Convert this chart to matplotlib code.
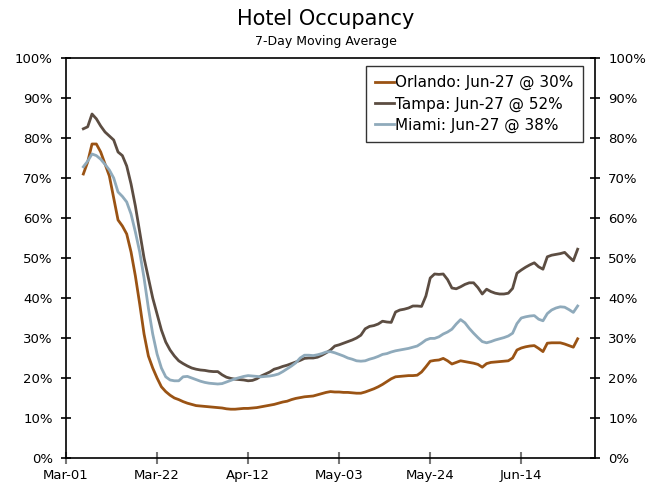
import numpy as np
import pandas as pd
import matplotlib
matplotlib.use('Agg')
import matplotlib.pyplot as plt
import matplotlib.dates as mdates
from matplotlib.ticker import FuncFormatter

# 7-day moving average occupancy (%), daily from Mar-05 to Jun-27
orlando = [71.0, 74.0, 78.5, 78.5, 76.5, 73.5, 70.5,
           65.0, 59.5, 58.0, 56.0, 51.5, 45.5, 38.5,
           31.0, 25.5, 22.5, 20.0, 17.8, 16.6, 15.7,
           15.0, 14.6, 14.1, 13.7, 13.4, 13.1, 13.0,
           12.9, 12.8, 12.7, 12.6, 12.5, 12.3, 12.2,
           12.2, 12.3, 12.4, 12.4, 12.5, 12.6, 12.8,
           13.0, 13.2, 13.4, 13.7, 14.0, 14.2, 14.6,
           14.9, 15.1, 15.3, 15.4, 15.5, 15.8, 16.1,
           16.4, 16.6, 16.5, 16.5, 16.4, 16.4, 16.3,
           16.2, 16.2, 16.5, 16.9, 17.3, 17.8, 18.4,
           19.1, 19.8, 20.3, 20.4, 20.5, 20.6, 20.6,
           20.7, 21.5, 22.8, 24.2, 24.4, 24.5, 24.9,
           24.3, 23.5, 23.9, 24.3, 24.1, 23.9, 23.7,
           23.4, 22.7, 23.6, 23.9, 24.0, 24.1, 24.2,
           24.3, 25.0, 27.0, 27.5, 27.8, 28.0, 28.1,
           27.4, 26.6, 28.7, 28.8, 28.8, 28.8, 28.5,
           28.1, 27.7, 29.8]

tampa = [82.3, 82.8, 86.0, 84.8, 83.0, 81.5, 80.5,
         79.5, 76.5, 75.6, 73.0, 68.5, 63.0, 56.5,
         50.0, 45.0, 40.0, 36.0, 32.0, 29.0, 27.0,
         25.5, 24.3, 23.6, 23.0, 22.5, 22.2, 22.0,
         21.9, 21.7, 21.6, 21.6, 20.8, 20.2, 19.9,
         19.7, 19.6, 19.5, 19.3, 19.4, 19.8, 20.5,
         21.0, 21.5, 22.2, 22.5, 22.9, 23.2, 23.6,
         24.0, 24.4, 24.9, 25.0, 25.0, 25.2, 25.7,
         26.3, 27.0, 28.0, 28.3, 28.7, 29.1, 29.5,
         30.0, 30.7, 32.3, 32.9, 33.1, 33.5, 34.2,
         34.0, 33.9, 36.5, 37.0, 37.2, 37.5, 38.0,
         38.0, 37.9, 40.5, 45.0, 46.0, 45.9, 46.0,
         44.6, 42.5, 42.3, 42.8, 43.4, 43.8, 43.8,
         42.6, 41.0, 42.2, 41.6, 41.2, 41.0, 41.0,
         41.2, 42.4, 46.2, 47.0, 47.7, 48.3, 48.8,
         47.8, 47.2, 50.3, 50.7, 50.9, 51.1, 51.4,
         50.3, 49.3, 52.2]

miami = [72.8, 74.2, 76.0, 75.6, 74.7, 73.4, 72.0,
         70.0, 66.5, 65.4, 64.0, 61.0, 56.5, 51.5,
         45.0, 37.5, 31.0, 26.0, 22.5, 20.3, 19.5,
         19.3, 19.3, 20.3, 20.4, 20.0, 19.6, 19.2,
         18.9, 18.7, 18.6, 18.5, 18.6, 19.0, 19.4,
         19.8, 20.1, 20.4, 20.6, 20.5, 20.4, 20.3,
         20.4, 20.5, 20.7, 21.0, 21.6, 22.3, 23.0,
         23.8, 25.0, 25.7, 25.7, 25.6, 25.8, 26.1,
         26.5, 26.6, 26.3, 25.9, 25.5, 25.0, 24.7,
         24.3, 24.2, 24.3, 24.7, 25.0, 25.4, 25.9,
         26.1, 26.5, 26.8, 27.0, 27.2, 27.4, 27.7,
         28.0, 28.7, 29.5, 29.9, 29.9, 30.3, 31.0,
         31.5, 32.2, 33.5, 34.6, 33.8, 32.4, 31.2,
         30.1, 29.1, 28.8, 29.1, 29.5, 29.8, 30.1,
         30.5, 31.2, 33.6, 35.0, 35.3, 35.5, 35.6,
         34.7, 34.3, 36.1, 37.0, 37.5, 37.8, 37.7,
         37.1, 36.4, 38.0]

labels = ['Orlando: Jun-27 @ 30%', 'Tampa: Jun-27 @ 52%', 'Miami: Jun-27 @ 38%']
colors = ['#9a5314', '#5c4d42', '#8faabb']

dates = pd.date_range('2020-03-05', periods=len(tampa), freq='D')

fig = plt.figure(figsize=(6.52, 4.91), dpi=100)
ax = fig.add_axes([66/652, 33/491, 529/652, 400/491])

for series, lab, col in zip([orlando, tampa, miami], labels, colors):
    ax.plot(dates, series, color=col, lw=2.0, label=lab)

ax.set_ylim(0, 100)
ax.set_yticks(np.arange(0, 101, 10))
ax.yaxis.set_major_formatter(FuncFormatter(lambda v, p: f'{v:.0f}%'))
ax.set_xlim(pd.Timestamp('2020-03-01'), pd.Timestamp('2020-07-01'))
ax.set_xticks(pd.date_range('2020-03-01', periods=6, freq='21D'))
ax.xaxis.set_major_formatter(mdates.DateFormatter('%b-%d'))

ax.tick_params(axis='y', direction='inout', length=7, width=1.2, labelsize=9.5,
               right=True, labelright=True, pad=6)
ax.tick_params(axis='x', direction='inout', length=8, width=1.5, color='#777777',
               labelsize=9.5, pad=4)
for s in ax.spines.values():
    s.set_linewidth(1.2)

leg = ax.legend(loc='upper right', bbox_to_anchor=(0.977, 0.98), borderaxespad=0,
                fontsize=11, frameon=True, fancybox=False, edgecolor='black',
                handlelength=1.2, handletextpad=0.1, borderpad=0.6,
                labelspacing=0.4)
leg.get_frame().set_linewidth(1.0)

fig.text(0.5, 0.962, 'Hotel Occupancy', ha='center', va='center', fontsize=15)
fig.text(0.5, 0.915, '7-Day Moving Average', ha='center', va='center', fontsize=9)

fig.savefig('out.png', dpi=100)
